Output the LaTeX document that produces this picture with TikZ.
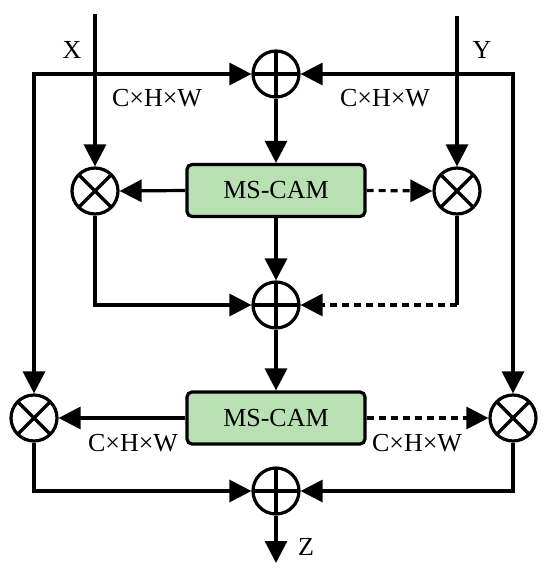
\documentclass[tikz,border=0pt]{standalone}
\usepackage{fontspec}
\setmainfont{Liberation Serif}
\usetikzlibrary{arrows.meta}
\definecolor{boxgreen}{RGB}{185,224,178}
\tikzset{
  every node/.style={font=\fontsize{26}{30}\selectfont},
  ln/.style={line width=3.2pt},
  tip/.tip={Triangle[length=22pt,width=22pt]},
  arr/.style={ln,-{tip}},
  darr/.style={ln,-{tip},dash pattern=on 7pt off 5pt},
  biarr/.style={ln,{tip}-{tip}},
  opl/.style={circle,draw,line width=3.2pt,minimum size=46pt,inner sep=0pt,
    path picture={\draw[line width=3.2pt] (path picture bounding box.north) -- (path picture bounding box.south)
      (path picture bounding box.west) -- (path picture bounding box.east);}},
  otm/.style={circle,draw,line width=3.2pt,minimum size=46pt,inner sep=0pt,
    path picture={\draw[line width=3.2pt] (path picture bounding box.north west) -- (path picture bounding box.south east)
      (path picture bounding box.south west) -- (path picture bounding box.north east);}},
  cam/.style={draw,fill=boxgreen,line width=3.2pt,rounded corners=5pt,minimum width=178pt,minimum height=52pt,inner sep=0pt},
  lbl/.style={inner sep=0pt}
}
\begin{document}
\begin{tikzpicture}[x=1pt,y=-1pt]
\useasboundingbox (0,0) rectangle (550,576);
% nodes
\node[opl] (oT) at (276,74) {};
\node[cam] (b1) at (276,190.5) {MS-CAM};
\node[otm] (oL) at (95,191) {};
\node[otm] (oR) at (457,191) {};
\node[opl] (oM) at (276,305) {};
\node[cam] (b2) at (276,418) {MS-CAM};
\node[otm] (oBL) at (34,418) {};
\node[otm] (oBR) at (513,418) {};
\node[opl] (oB) at (276,491) {};
\coordinate (xin) at (95,14);
\coordinate (yin) at (457,16);
\coordinate (rc) at (457,305);
\coordinate (zout) at (276,563);
% labels
\node[lbl] (lx) at (72,50) {X};
\node[lbl] (ly) at (482,50) {Y};
\node[lbl] (l1) at (157,98) {C×H×W};
\node[lbl] (l2) at (385,98) {C×H×W};
\node[lbl] (l3) at (133,443) {C×H×W};
\node[lbl] (l4) at (417,443) {C×H×W};
\node[lbl] (lz) at (306,547) {Z};
% connectors
\draw[biarr] (oBL.north) |- (oT.west);
\draw[biarr] (oBR.north) |- (oT.east);
\draw[arr] (xin) -- (oL.north);
\draw[arr] (yin) -- (oR.north);
\draw[arr] (oT.south) -- (b1.north);
\draw[arr] (b1.west) -- (oL.east);
\draw[darr] (b1.east) -- (oR.west);
\draw[arr] (b1.south) -- (oM.north);
\draw[arr] (oL.south) |- (oM.west);
\draw[ln] (oR.south) -- (rc);
\draw[darr] (rc) -- (oM.east);
\draw[arr] (oM.south) -- (b2.north);
\draw[arr] (b2.west) -- (oBL.east);
\draw[darr] (b2.east) -- (oBR.west);
\draw[arr] (oBL.south) |- (oB.west);
\draw[arr] (oBR.south) |- (oB.east);
\draw[arr] (oB.south) -- (zout);
\end{tikzpicture}
\end{document}
